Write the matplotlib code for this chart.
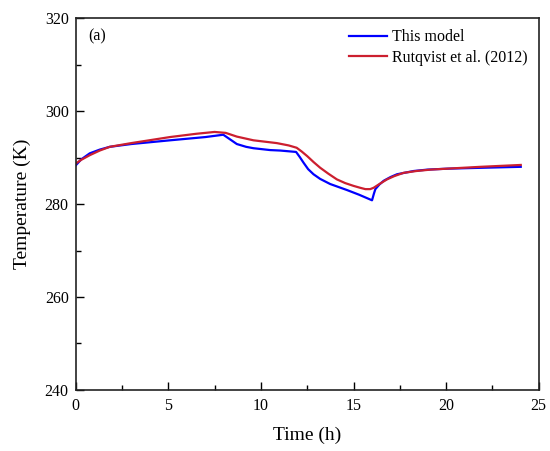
import matplotlib
matplotlib.use("Agg")
import matplotlib.pyplot as plt
from matplotlib.ticker import MultipleLocator

plt.rcParams['font.family'] = ['Liberation Serif', 'DejaVu Serif']

# this model
t_model = [0, 0.3, 0.76, 1.3, 1.84, 3, 5.09, 7, 7.97, 8.3, 8.7, 9.2, 9.6, 10.5, 11.04, 11.9,
           12.1, 12.3, 12.55, 12.84, 13.2, 13.74, 14.65, 15.3, 16.0, 16.1, 16.18, 16.4,
           16.63, 17.0, 17.35, 18.25, 19.0, 20.06, 22, 24.03]
T_model = [288.3, 289.6, 290.9, 291.7, 292.3, 292.9, 293.7, 294.4, 294.9, 294.0, 292.9,
           292.3, 292.0, 291.6, 291.5, 291.2, 290.1, 288.9, 287.5, 286.4, 285.4, 284.3,
           283.0, 282.0, 280.8, 282.2, 283.2, 284.2, 285.0, 285.8, 286.4, 287.1, 287.4,
           287.6, 287.8, 288.0]

# Rutqvist et al. (2012)
t_ref = [0, 0.3, 0.76, 1.3, 1.84, 3, 5.09, 6.5, 7.5, 8.1, 8.4, 8.7, 9.6, 10.86, 11.5, 11.93,
         12.2, 12.5, 12.85, 13.2, 13.65, 14.1, 14.55, 15.0, 15.35, 15.64, 15.9, 16.09,
         16.4, 16.81, 17.2, 17.7, 18.4, 19.16, 20.5, 21.86, 24.03]
T_ref = [288.7, 289.5, 290.5, 291.5, 292.3, 293.1, 294.4, 295.1, 295.5, 295.3, 294.9,
         294.5, 293.7, 293.1, 292.6, 292.1, 291.3, 290.3, 289.0, 287.8, 286.5, 285.3,
         284.5, 283.9, 283.5, 283.2, 283.2, 283.5, 284.3, 285.3, 286.0, 286.7, 287.1,
         287.4, 287.7, 288.0, 288.4]

fig = plt.figure(figsize=(5.5, 4.51), dpi=100)
ax = fig.add_axes([0.1376, 0.1353, 0.9795 - 0.1376, 0.960 - 0.1353])

ax.plot(t_model, T_model, color='#0000FF', lw=1.6, label='This model')
ax.plot(t_ref, T_ref, color='#CC1F2F', lw=1.6, label='Rutqvist et al. (2012)')

ax.set_xlim(0, 25)
ax.set_ylim(240, 320)
ax.xaxis.set_major_locator(MultipleLocator(5))
ax.xaxis.set_minor_locator(MultipleLocator(2.5))
ax.yaxis.set_major_locator(MultipleLocator(20))
ax.yaxis.set_minor_locator(MultipleLocator(10))
ax.tick_params(which='both', direction='in', top=False, right=False, labelsize=11.5, width=1.0)
ax.tick_params(which='major', length=6)
ax.tick_params(axis='y', which='both', pad=5)
ax.tick_params(axis='x', which='both', pad=6)
ax.tick_params(which='minor', length=3.5)
for s in ax.spines.values():
    s.set_linewidth(1.2)
    s.set_color('#222222')

ax.set_xlabel('Time (h)', fontsize=14, labelpad=9)
ax.set_ylabel('Temperature (K)', fontsize=14, labelpad=10)
ax.text(0.028, 0.95, '(a)', transform=ax.transAxes, fontsize=11.5, va='center')

ax.legend(loc='upper right', bbox_to_anchor=(1.0, 1.0), frameon=False, fontsize=11.5,
          handlelength=2.4, labelspacing=0.3, handletextpad=0.3, borderaxespad=0.3)

fig.savefig('out.png', dpi=100)
